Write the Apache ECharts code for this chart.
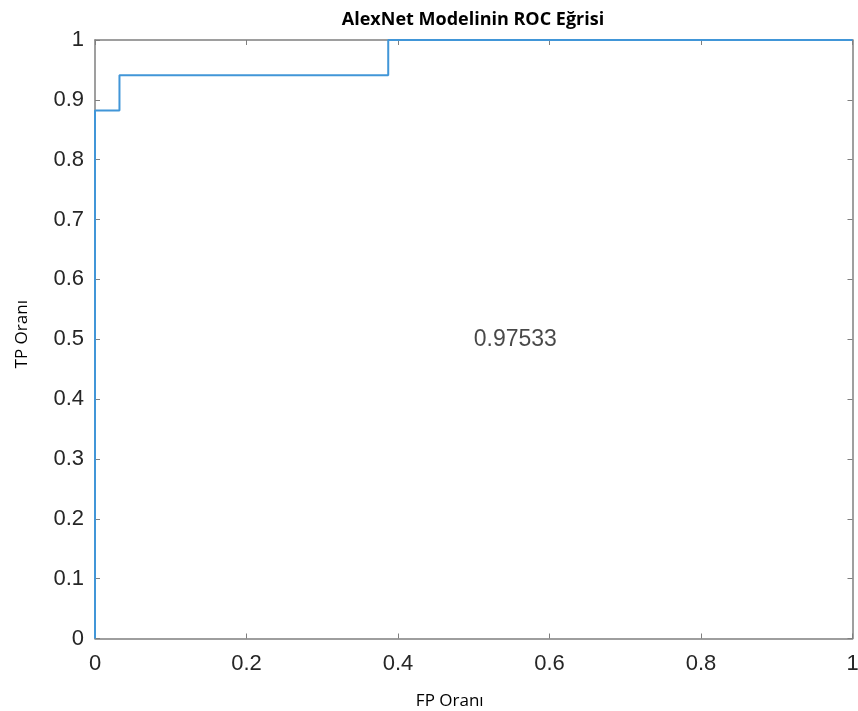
<!DOCTYPE html>
<html><head><meta charset="utf-8">
<script src="https://cdn.jsdelivr.net/npm/echarts@6/dist/echarts.min.js"></script>
<style>html,body{margin:0;padding:0;background:#fff}#c{width:858px;height:711px}</style>
</head><body><div id="c"></div>
<script>
const fpr = [0, 0, 0.0323, 0.0323, 0.3871, 0.3871, 1];
const tpr = [0, 0.8824, 0.8824, 0.9412, 0.9412, 1, 1];
const aucText = '0.97533';
const aucPos = [0.5, 0.5];
const ticks = [0, 0.2, 0.4, 0.6, 0.8, 1];
const titleText = 'AlexNet Modelinin ROC Eğrisi';
const xName = 'FP Oranı';
const yName = 'TP Oranı';

const chart = echarts.init(document.getElementById('c'));
const axisColor = '#7f7f7f';
const labelColor = '#262626';
const fmt = v => String(Math.round(v * 10) / 10);
const base = {
  type: 'value', min: 0, max: 1,
  axisLine: {show: true, onZero: false, lineStyle: {color: axisColor, width: 1.5}},
  axisTick: {show: true, inside: true, length: 5, lineStyle: {color: axisColor, width: 1}},
  splitLine: {show: false}
};
chart.setOption({
  animation: false,
  title: {text: titleText, left: 468, textAlign: 'center', top: 6,
    textStyle: {fontFamily: 'Open Sans', fontWeight: 'bold', fontSize: 18, color: '#000'}},
  grid: {left: 95, right: 5.5, top: 40, bottom: 72.5, containLabel: false, outerBoundsMode: 'none'},
  xAxis: [
    Object.assign({}, base, {interval: 0.2, position: 'bottom',
      name: xName, nameLocation: 'middle', nameGap: 54,
      nameTextStyle: {fontFamily: 'Open Sans', fontSize: 17, color: '#000', padding: [0, 48, 0, 0]},
      axisLabel: {fontFamily: 'Liberation Sans', fontSize: 22, color: labelColor, margin: 14, formatter: fmt}}),
    Object.assign({}, base, {interval: 0.2, position: 'top', axisLabel: {show: false}})
  ],
  yAxis: [
    Object.assign({}, base, {interval: 0.1, position: 'left',
      name: yName, nameLocation: 'middle', nameGap: 64, nameRotate: 90,
      nameTextStyle: {fontFamily: 'Open Sans', fontSize: 17, color: '#000', padding: [0, 0, 0, 10]},
      axisLabel: {fontFamily: 'Liberation Sans', fontSize: 22, color: labelColor, margin: 11, formatter: fmt}}),
    Object.assign({}, base, {interval: 0.1, position: 'right', axisLabel: {show: false}})
  ],
  series: [
    {type: 'line', xAxisIndex: 0, yAxisIndex: 0, symbol: 'none',
     data: fpr.map((x, i) => [x, tpr[i]]),
     lineStyle: {color: '#4196d8', width: 2},
     clip: false},
    {type: 'scatter', xAxisIndex: 0, yAxisIndex: 0, symbolSize: 0,
     data: [aucPos],
     label: {show: true, position: 'right', distance: 0, formatter: aucText,
       fontFamily: 'Liberation Sans', fontSize: 23, color: '#1a1a1a'}}
  ]
});
</script></body></html>
